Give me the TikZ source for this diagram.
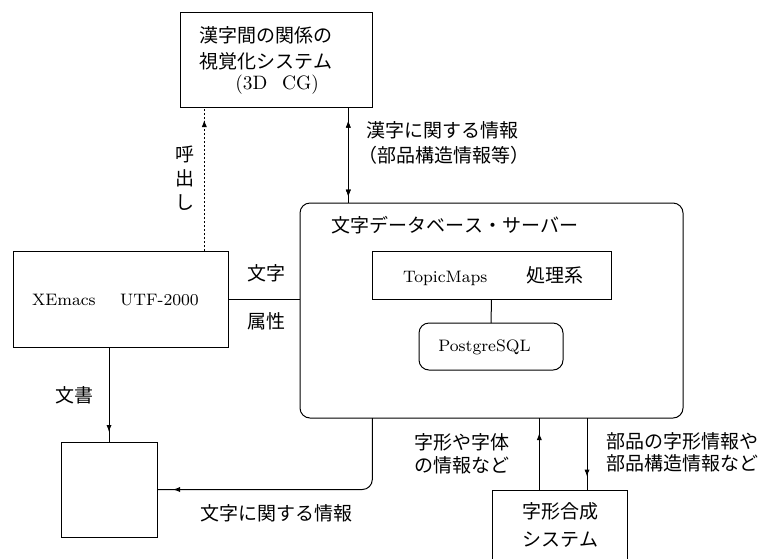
\documentclass[tikz,border=0pt]{standalone}
\usepackage{fontspec}
\newfontfamily\jp[Kerning=Off]{Noto Sans CJK JP}
\usetikzlibrary{arrows.meta,decorations.markings}
\begin{document}
\begin{tikzpicture}[x=0.5pt,y=-0.5pt,
  box/.style={draw, line width=0.5pt, inner sep=0pt, outer sep=0pt},
  rbox/.style={box, rounded corners=5pt},
  jtxt/.style={font=\jp\fontsize{9.5pt}{12pt}\selectfont, inner sep=0pt, anchor=west},
  ltxt/.style={font=\fontsize{8.3pt}{10pt}\selectfont, inner sep=0pt, anchor=west},
  conn/.style={line width=0.5pt},
  dotconn/.style={conn, dash pattern=on 1pt off 1pt},
  arrowat/.style={postaction={decorate}, decoration={markings, mark=at position #1 with {\arrow{Latex[length=3.5pt,width=2.6pt]}}}},
  arrowrevat/.style={postaction={decorate}, decoration={markings, mark=at position #1 with {\arrowreversed{Latex[length=3.5pt,width=2.6pt]}}}}
]
\path[use as bounding box] (0,0) rectangle (758,558);

% boxes
\node[box, minimum width=96pt, minimum height=47.5pt] (top) at (276,59.5) {};
\node[rbox, minimum width=191.5pt, minimum height=107.5pt] (server) at (491.5,310.5) {};
\node[box, minimum width=119.5pt, minimum height=24pt] (topic) at (491.5,275) {};
\node[rbox, minimum width=72pt, minimum height=23.5pt] (pg) at (491,346.5) {};
\node[box, minimum width=107.5pt, minimum height=48pt] (xemacs) at (120.5,299) {};
\node[box, minimum width=48pt, minimum height=47.5pt] (doc) at (109,489.5) {};
\begin{scope}
\clip (0,0) rectangle (758,558);
\node[box, minimum width=67.5pt, minimum height=45pt] (glyph) at (559.5,535) {};
\end{scope}

% texts
\node[jtxt] (t1) at (199,35) {漢字間の関係の};
\node[jtxt] (t2) at (199,61) {視覚化システム};
\node[ltxt, font=\fontsize{9.7pt}{11pt}\selectfont] (t3) at (235,85) {(3D\hspace{7.3pt}CG)};
\node[jtxt] (srvtitle) at (330.7,225) {文字データベース・サーバー};
\node[ltxt] (topictxt) at (402.7,276) {TopicMaps\hspace{19.5pt}{\jp\fontsize{9.5pt}{12pt}\selectfont 処理系}};
\node[ltxt] (pgtxt) at (438,347) {PostgreSQL};
\node[ltxt] (xetxt) at (31.7,300) {XEmacs\hspace{12.3pt}UTF-2000};
\node[jtxt] (g1) at (521.7,511.7) {字形合成};
\node[jtxt] (g2) at (521.7,540) {システム};

% labels
\node[jtxt, anchor=center, align=center, font=\jp\fontsize{9.5pt}{12pt}\selectfont] (yobi) at (185,178) {呼\\出\\し};
\node[jtxt] (k1) at (366,130) {漢字に関する情報};
\node[jtxt] (k2) at (358,155) {（部品構造情報等）};
\node[jtxt] (moji) at (246.7,273) {文字};
\node[jtxt] (zoku) at (246.7,321.7) {属性};
\node[jtxt] (bunsho) at (55,395) {文書};
\node[jtxt] (mj) at (200,513.3) {文字に関する情報};
\node[jtxt] (j1) at (414,442.7) {字形や字体};
\node[jtxt] (j2) at (414,465) {の情報など};
\node[jtxt] (b1) at (606,441.7) {部品の字形情報や};
\node[jtxt] (b2) at (606,463.3) {部品構造情報など};

% x positions of connectors
\coordinate (xdot) at (204.3,0);
\coordinate (xdbl) at (348.3,0);
\coordinate (xret) at (372.3,0);
\coordinate (xup) at (539.3,0);
\coordinate (xdn) at (587,0);

% connectors
\draw[dotconn, arrowat=-6.5pt] (xdot |- xemacs.north) -- (xdot |- top.south);
\draw[conn, arrowrevat=6.85pt, arrowat=-3.15pt] (xdbl |- top.south) -- (xdbl |- server.north);
\draw[conn] (xemacs.east) -- (xemacs.east -| server.west);
\draw[conn] (topic.south) -- (pg.north);
\draw[conn, arrowat=-5pt] (doc.north |- xemacs.south) -- (doc.north);
\draw[conn, rounded corners=5pt, arrowat=-8pt] (xret |- server.south) |- (doc.east);
\draw[conn, arrowat=-7.5pt] (xup |- glyph.north) -- (xup |- server.south);
\draw[conn, arrowat=-6.7pt] (xdn |- server.south) -- (xdn |- glyph.north);
\end{tikzpicture}
\end{document}
